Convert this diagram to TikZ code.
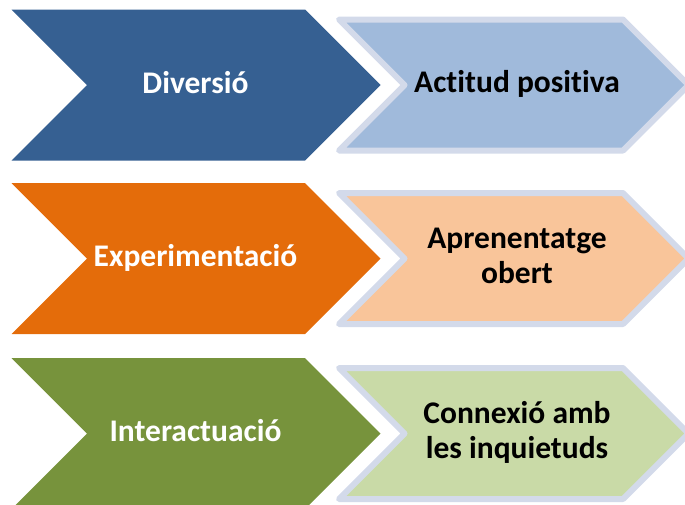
\documentclass[tikz,border=0pt]{standalone}
\usepackage{fontspec}
\setmainfont{Carlito}[Ligatures=NoCommon]
\definecolor{dblue}{HTML}{366092}
\definecolor{dorange}{HTML}{E46C0A}
\definecolor{dgreen}{HTML}{77933C}
\definecolor{lblue}{HTML}{A0BADB}
\definecolor{lorange}{HTML}{F9C59A}
\definecolor{lgreen}{HTML}{C9DAA7}
\definecolor{chevborder}{HTML}{D3DAEA}
\tikzset{
  leftchev/.style={fill=#1, draw=none},
  rightchev/.style={fill=#1, draw=chevborder, line width=6pt, line join=round},
  chevtext/.style={font=\fontsize{31.5}{35}\selectfont\bfseries, anchor=base, align=center, inner sep=0pt},
  lefttext/.style={chevtext, text=white},
  righttext/.style={chevtext, text=black}
}
\begin{document}
\begin{tikzpicture}[x=1pt,y=-1pt]
\useasboundingbox (0,0) rectangle (685,504);
\clip (0,0) rectangle (685,504);
\foreach \c/\dc/\lc in {85/dblue/lblue, 258.5/dorange/lorange, 433.5/dgreen/lgreen}{
  \path[leftchev=\dc] (11.5,\c-75.5) -- (305,\c-75.5) -- (380.5,\c) -- (305,\c+75.5) -- (11.5,\c+75.5) -- (87,\c) -- cycle;
  \path[rightchev=\lc] (339,\c-65.5) -- (623,\c-65.5) -- (688.5,\c) -- (623,\c+65.5) -- (339,\c+65.5) -- (404.5,\c) -- cycle;
}
\node[lefttext] (l1) at (195.5,93) {Diversió};
\node[lefttext] (l2) at (195.5,266.5) {Experimentació};
\node[lefttext] (l3) at (195.5,441.5) {Interactuació};
\node[righttext] (r1) at (517,92) {Actitud positiva};
\node[righttext] (r2) at (517,283.5) {Aprenentatge\\obert};
\node[righttext] (r3) at (517,458.5) {Connexió amb\\les inquietuds};
\end{tikzpicture}
\end{document}
